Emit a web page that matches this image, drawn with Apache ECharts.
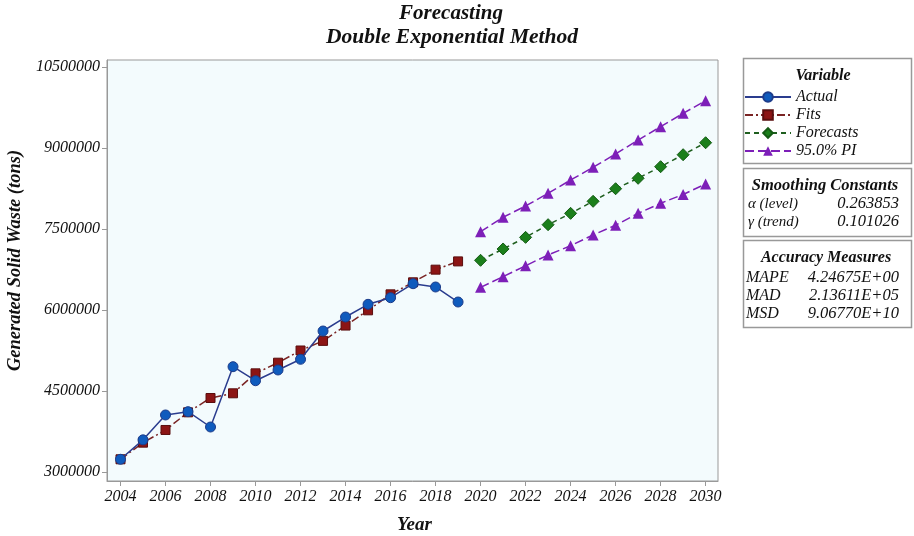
<!DOCTYPE html>
<html>
<head>
<meta charset="utf-8">
<script src="https://cdn.jsdelivr.net/npm/echarts@6/dist/echarts.min.js"></script>
<style>html,body{margin:0;padding:0;background:#fff;}#c{width:914px;height:536px;}</style>
</head>
<body>
<div id="c"></div>
<script>
// ---- data ----
const actualYears = [2004,2005,2006,2007,2008,2009,2010,2011,2012,2013,2014,2015,2016,2017,2018,2019];
const actualValues = [3235000,3595000,4056000,4117000,3833000,4950000,4690000,4889000,5087000,5611000,5870000,6105000,6228000,6487000,6426000,6148000];
const fitsValues = [3235000,3543000,3778000,4105000,4370000,4457000,4827000,5024000,5250000,5428000,5712000,5994000,6290000,6513000,6747000,6900000];
const forecastYears = [2020,2021,2022,2023,2024,2025,2026,2027,2028,2029,2030];
const forecastValues = [6920000,7130000,7345000,7580000,7790000,8013000,8246000,8439000,8654000,8876000,9098000];
const upperPI = [7450000,7717000,7926000,8161000,8407000,8642000,8889000,9148000,9395000,9642000,9876000];
const lowerPI = [6420000,6617000,6820000,7020000,7190000,7390000,7570000,7790000,7976000,8140000,8333000];
const xTicks = [2004,2006,2008,2010,2012,2014,2016,2018,2020,2022,2024,2026,2028,2030];
const yTicks = [3000000,4500000,6000000,7500000,9000000,10500000];
const smoothing = [["α (level)","0.263853"],["γ (trend)","0.101026"]];
const accuracy = [["MAPE","4.24675E+00"],["MAD","2.13611E+05"],["MSD","9.06770E+10"]];

const pair = (xs, ys) => xs.map((x,i)=>[x, ys[i]]);
const SERIF = '"Liberation Serif", "Times New Roman", serif';

const chart = echarts.init(document.getElementById('c'), null, {renderer:'canvas'});

const graphics = [
  {type:'text', style:{text:'Forecasting', x:451, y:14, textAlign:'center', textVerticalAlign:'middle', font:'italic bold 21px '+SERIF, fill:'#111'}},
  {type:'text', style:{text:'Double Exponential Method', x:452, y:37, textAlign:'center', textVerticalAlign:'middle', font:'italic bold 21.5px '+SERIF, fill:'#111'}},
  {type:'rect', shape:{x:743.5, y:58.5, width:168, height:105}, style:{fill:'#fff', stroke:'#999', lineWidth:1.5}, z:-1},
  {type:'text', style:{text:'Variable', x:823, y:76, textAlign:'center', textVerticalAlign:'middle', font:'italic bold 16px '+SERIF, fill:'#111'}},
  {type:'rect', shape:{x:743.5, y:168.5, width:168, height:68}, style:{fill:'#fff', stroke:'#999', lineWidth:1.5}, z:-1},
  {type:'text', style:{text:'Smoothing Constants', x:825, y:186, textAlign:'center', textVerticalAlign:'middle', font:'italic bold 16.5px '+SERIF, fill:'#111'}},
  {type:'rect', shape:{x:743.5, y:240.5, width:168, height:87}, style:{fill:'#fff', stroke:'#999', lineWidth:1.5}, z:-1},
  {type:'text', style:{text:'Accuracy Measures', x:826, y:258, textAlign:'center', textVerticalAlign:'middle', font:'italic bold 16px '+SERIF, fill:'#111'}}
];
smoothing.forEach((r,i)=>{
  graphics.push({type:'text', style:{text:r[0], x:748, y:204+i*18, textVerticalAlign:'middle', font:'italic 15px '+SERIF, fill:'#111'}});
  graphics.push({type:'text', style:{text:r[1], x:899, y:204+i*18, textAlign:'right', textVerticalAlign:'middle', font:'italic 16.5px '+SERIF, fill:'#111'}});
});
accuracy.forEach((r,i)=>{
  graphics.push({type:'text', style:{text:r[0], x:746, y:278+i*18, textVerticalAlign:'middle', font:'italic 16px '+SERIF, fill:'#111'}});
  graphics.push({type:'text', style:{text:r[1], x:899, y:278+i*18, textAlign:'right', textVerticalAlign:'middle', font:'italic 16.5px '+SERIF, fill:'#111'}});
});

const option = {
  animation:false,
  backgroundColor:'#fff',
  grid:{left:107, right:196, top:60, bottom:55, show:true, backgroundColor:'#f3fbfd', borderColor:'#999', borderWidth:1, containLabel:false, outerBoundsMode:'none'},
  xAxis:{
    type:'value', min:2003.4, max:2030.55,
    name:'Year', nameLocation:'middle', nameGap:35,
    nameTextStyle:{fontFamily:SERIF, fontStyle:'italic', fontWeight:'bold', fontSize:19, color:'#111', padding:[0,0,0,4]},
    axisLine:{show:true, lineStyle:{color:'#999'}},
    axisTick:{show:true, length:5, lineStyle:{color:'#999'}, customValues:xTicks},
    axisLabel:{customValues:xTicks, fontFamily:SERIF, fontStyle:'italic', fontSize:16, color:'#111', margin:8, formatter:v=>String(v)},
    splitLine:{show:false}
  },
  yAxis:{
    type:'value', min:2833000, max:10630000,
    name:'Generated Solid Waste (tons)', nameLocation:'middle', nameGap:77,
    nameTextStyle:{fontFamily:SERIF, fontStyle:'italic', fontWeight:'bold', fontSize:18.5, color:'#111', padding:[0,0,0,20]},
    axisLine:{show:true, lineStyle:{color:'#999'}},
    axisTick:{show:true, length:5, lineStyle:{color:'#999'}, customValues:yTicks},
    axisLabel:{customValues:yTicks, fontFamily:SERIF, fontStyle:'italic', fontSize:16, color:'#111', margin:7, formatter:v=>String(v)},
    splitLine:{show:false}
  },
  legend:{
    orient:'vertical', left:739, top:84, itemWidth:46, itemHeight:12, itemGap:2,
    textStyle:{fontFamily:SERIF, fontStyle:'italic', fontSize:16, color:'#111', lineHeight:16},
    data:['Actual','Fits','Forecasts','95.0% PI']
  },
  graphic:graphics,
  series:[
    {name:'Actual', type:'line', data:pair(actualYears, actualValues), symbol:'circle', symbolSize:10,
     itemStyle:{color:'#0f5bbd', borderColor:'#1d3c8a', borderWidth:1}, lineStyle:{color:'#2a3c8e', width:1.5}, z:3},
    {name:'Fits', type:'line', data:pair(actualYears, fitsValues), symbol:'rect', symbolSize:9,
     itemStyle:{color:'#8c1515', borderColor:'#5a0e0e', borderWidth:1}, lineStyle:{color:'#7a2424', width:1.5, type:[8,3,2,3]}, z:2},
    {name:'Forecasts', type:'line', data:pair(forecastYears, forecastValues), symbol:'diamond', symbolSize:12,
     itemStyle:{color:'#1b7f1b', borderColor:'#145a14', borderWidth:1}, lineStyle:{color:'#1f5f1f', width:1.5, type:[5,4]}},
    {name:'95.0% PI', type:'line', data:pair(forecastYears, upperPI), symbol:'triangle', symbolSize:11,
     itemStyle:{color:'#7d1fb8'}, lineStyle:{color:'#7d1fb8', width:1.5, type:[9,4]}},
    {name:'95.0% PI', type:'line', data:pair(forecastYears, lowerPI), symbol:'triangle', symbolSize:11,
     itemStyle:{color:'#7d1fb8'}, lineStyle:{color:'#7d1fb8', width:1.5, type:[9,4]}}
  ]
};
chart.setOption(option);
</script>
</body>
</html>
